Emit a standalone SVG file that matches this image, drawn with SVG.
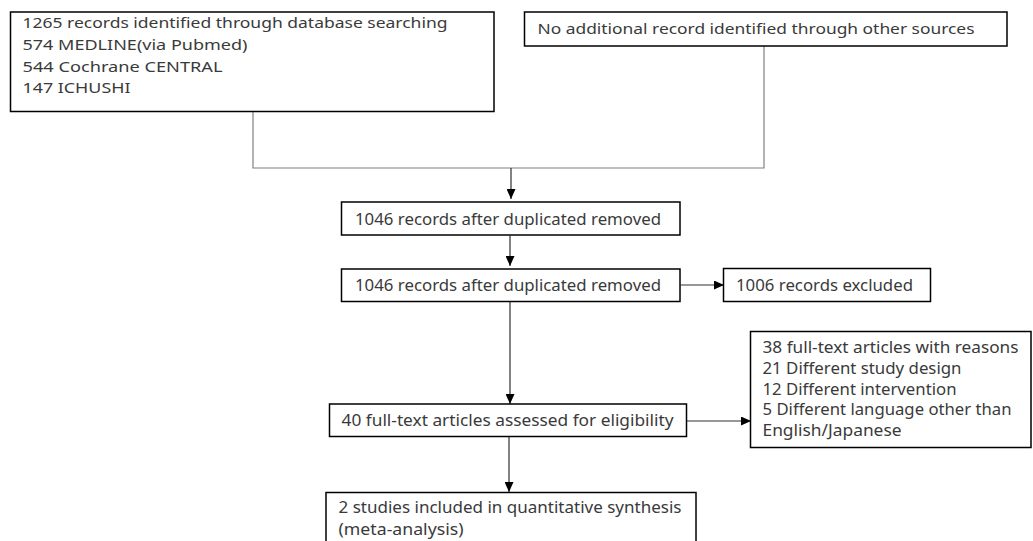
<svg xmlns="http://www.w3.org/2000/svg" width="1033" height="541" viewBox="0 0 1033 541">
<style>
.box{fill:#fff;stroke:#000;stroke-width:1.5}
.t{font-family:"Noto Sans","Liberation Sans",sans-serif;font-size:15px;fill:#3a3a3a}
.c{font-family:"Noto Sans","Liberation Sans",sans-serif;font-size:16.5px;fill:#3a3a3a}
.s{font-family:"Noto Sans","Liberation Sans",sans-serif;font-size:15.5px;fill:#3a3a3a}
.ln{fill:none;stroke:#808080;stroke-width:1.2}
.ar{fill:none;stroke:#303030;stroke-width:1.2}
</style>
<defs>
<marker id="arr" viewBox="0 0 10 9" refX="10" refY="4.5" markerWidth="10" markerHeight="9" markerUnits="userSpaceOnUse" orient="auto">
<path d="M0,0 L10,4.5 L0,9 z" fill="#000"/>
</marker>
</defs>
<g id="connectors">
<path class="ln" d="M253,111.5 V168 H764 V46"/>
<path class="ar" d="M511,168 V199" marker-end="url(#arr)"/>
<path class="ar" d="M510,235.5 V266" marker-end="url(#arr)"/>
<path class="ar" d="M680.5,285 H724" marker-end="url(#arr)"/>
<path class="ar" d="M510,301.5 V404" marker-end="url(#arr)"/>
<path class="ar" d="M687,421 H751" marker-end="url(#arr)"/>
<path class="ar" d="M509,437 V492" marker-end="url(#arr)"/>
</g>
<g id="n1">
<rect class="box" x="10.5" y="12" width="483.5" height="99.5"/>
<text class="t" x="22.5" y="28" textLength="425" lengthAdjust="spacingAndGlyphs">1265 records identified through database searching</text>
<text class="t" x="22.5" y="50" textLength="225" lengthAdjust="spacingAndGlyphs">574 MEDLINE(via Pubmed)</text>
<text class="t" x="22.5" y="71.5" textLength="200" lengthAdjust="spacingAndGlyphs">544 Cochrane CENTRAL</text>
<text class="t" x="22.5" y="93" textLength="108" lengthAdjust="spacingAndGlyphs">147 ICHUSHI</text>
</g>
<g id="n2">
<rect class="box" x="524.5" y="12" width="482.5" height="34"/>
<text class="t" x="537.5" y="34" textLength="437" lengthAdjust="spacingAndGlyphs">No additional record identified through other sources</text>
</g>
<g id="n3">
<rect class="box" x="341.5" y="202" width="338.5" height="33"/>
<text class="c" x="355" y="224.5" textLength="306" lengthAdjust="spacingAndGlyphs">1046 records after duplicated removed</text>
</g>
<g id="n4">
<rect class="box" x="341.5" y="269" width="338.5" height="32.5"/>
<text class="c" x="355" y="291" textLength="306" lengthAdjust="spacingAndGlyphs">1046 records after duplicated removed</text>
</g>
<g id="n5">
<rect class="box" x="723.5" y="268.5" width="207" height="33"/>
<text class="c" x="736" y="291" textLength="177" lengthAdjust="spacingAndGlyphs">1006 records excluded</text>
</g>
<g id="n6">
<rect class="box" x="329.5" y="404" width="357" height="32.5"/>
<text class="c" x="341.5" y="426" textLength="332" lengthAdjust="spacingAndGlyphs">40 full-text articles assessed for eligibility</text>
</g>
<g id="n7">
<rect class="box" x="750.5" y="331.5" width="280.5" height="116"/>
<text class="c" x="762.5" y="353" textLength="256" lengthAdjust="spacingAndGlyphs">38 full-text articles with reasons</text>
<text class="c" x="762.5" y="373.8" textLength="199" lengthAdjust="spacingAndGlyphs">21 Different study design</text>
<text class="c" x="762.5" y="394.6" textLength="194" lengthAdjust="spacingAndGlyphs">12 Different intervention</text>
<text class="c" x="762.5" y="415.4" textLength="249" lengthAdjust="spacingAndGlyphs">5 Different language other than</text>
<text class="c" x="762.5" y="436.2" textLength="139" lengthAdjust="spacingAndGlyphs">English/Japanese</text>
</g>
<g id="n8">
<rect class="box" x="326" y="492.5" width="370" height="50"/>
<text class="s" x="338.5" y="512.5" textLength="343" lengthAdjust="spacingAndGlyphs">2 studies included in quantitative synthesis</text>
<text class="s" x="338.5" y="534.5" textLength="125" lengthAdjust="spacingAndGlyphs">(meta-analysis)</text>
</g>
</svg>
